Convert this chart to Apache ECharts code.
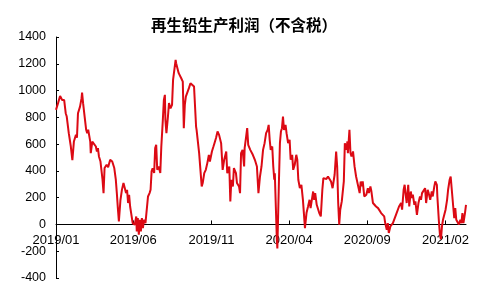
<!DOCTYPE html>
<html>
<head>
<meta charset="utf-8">
<script src="https://cdn.jsdelivr.net/npm/echarts@6/dist/echarts.min.js"></script>
<style>html,body{margin:0;padding:0;background:#fff;}#c{width:492px;height:302px;}</style>
</head>
<body>
<div id="c"></div>
<script>
// Day offsets from 2019/01/01
var dayOffsets = [0,4,8,10,12,16,19,21,25,29,32,35,39,41,43,47,50,51,53,56,59,61,63,67,68,71,74,78,80,82,84,87,91,93,95,99,102,106,110,114,117,119,121,123,126,129,132,134,137,139,141,143,145,147,150,154,157,158,160,162,164,166,168,170,172,175,178,180,183,185,187,189,192,194,196,198,201,204,206,209,211,213,214,216,219,221,224,227,229,232,234,235,238,240,243,245,248,250,252,254,257,260,263,266,270,274,275,280,285,287,290,293,296,299,301,305,308,310,313,316,319,323,326,329,333,335,339,341,343,346,348,352,354,358,360,362,365,368,369,372,374,376,380,385,389,393,396,399,402,405,408,411,414,416,418,420,423,425,427,428,430,432,433,436,438,440,442,444,446,449,451,454,457,459,462,464,467,470,472,474,477,480,483,487,490,493,496,498,501,503,505,507,510,513,515,518,521,523,526,529,532,535,538,541,545,548,550,552,554,556,559,561,563,565,568,570,571,574,576,578,581,584,587,590,594,596,598,600,603,607,610,612,615,617,620,623,626,630,633,636,639,642,644,647,649,651,654,656,659,662,665,668,671,675,677,680,682,684,686,689,691,694,696,698,701,703,706,707,709,712,714,716,719,722,724,727,729,732,735,737,740,742,745,746,749,751,753,755,757,759,762,765,767,770,772,775,777,779,781,783,785,788,791,793,795,797,800,802];
var profit = [856,906,960,972,930,929,831,806,682,582,480,619,669,648,831,880,943,985,906,806,707,682,707,619,533,619,632,582,545,570,508,470,334,234,421,446,428,483,470,421,334,234,122,22,180,260,309,321,234,259,160,222,134,85,10,-2,60,-52,47,-77,35,-52,47,-27,35,10,10,209,234,259,396,420,384,570,595,408,433,384,582,781,930,968,781,682,806,906,868,893,1080,1092,1229,1204,1192,1130,1142,1092,1067,719,893,955,955,1018,1055,1067,1030,731,706,533,284,309,383,408,458,520,470,545,582,607,645,694,669,607,408,483,545,383,433,172,334,284,421,383,309,284,234,533,557,433,570,657,719,595,557,520,483,433,234,358,433,557,607,682,706,744,632,557,582,433,334,383,134,-114,-180,309,607,694,719,806,706,744,682,607,632,483,520,408,446,520,483,334,271,296,184,-27,85,134,184,122,197,246,184,234,147,134,85,60,259,346,346,340,358,371,321,271,371,545,433,160,-2,110,172,184,321,607,557,620,533,707,533,508,545,433,358,371,234,321,284,321,209,222,271,234,284,246,160,147,134,122,110,85,97,60,10,-40,10,-64,-15,-27,10,-2,72,85,134,160,110,259,296,222,160,296,134,246,197,222,147,172,72,60,160,209,184,234,222,271,160,259,234,184,246,209,284,321,296,209,22,-77,-110,-15,35,22,110,184,259,334,358,346,134,47,122,35,47,0,35,10,85,10,85,147];
var tickLabels = ['2019/01','2019/06','2019/11','2020/04','2020/09','2021/02'];
var yTicks = {min:-400, max:1400, step:200};
var titleText = '再生铅生产利润（不含税）';

var base = new Date(2019, 0, 1);
function dayOf(label){
  var p = label.split('/');
  var d = new Date(+p[0], +p[1] - 1, 1);
  return Math.round((d - base) / 86400000);
}
var tickDays = tickLabels.map(dayOf);
function labelOf(day){
  var d = new Date(2019, 0, 1 + day);
  var m = d.getMonth() + 1;
  return d.getFullYear() + '/' + (m < 10 ? '0' + m : m);
}
var seriesData = dayOffsets.map(function(d, i){ return [d, profit[i]]; });

// layout of the main plot
var chartH = 302, gTop = 37, gBottom = 24, gLeft = 56, gRight = 26;
var plotH = chartH - gTop - gBottom;
var zeroFrac = (yTicks.max - 0) / (yTicks.max - yTicks.min);
var upperBottom = chartH - gTop - plotH * zeroFrac; // grid that ends exactly on the zero line

var xMax = dayOffsets[dayOffsets.length - 1];
var chart = echarts.init(document.getElementById('c'), null, {renderer:'canvas'});
var font = 'Liberation Sans, Arial, sans-serif';
chart.setOption({
  animation: false,
  backgroundColor: '#fff',
  title: {
    text: titleText,
    left: 146, top: 12,
    textStyle: {fontSize: 15.5, fontWeight: 'bold', color: '#000', fontFamily: 'Noto Sans CJK SC'}
  },
  grid: [
    {left: gLeft, right: gRight, top: gTop, bottom: gBottom, containLabel: false},
    {left: gLeft, right: gRight, top: gTop, bottom: upperBottom, containLabel: false}
  ],
  xAxis: [{
    type: 'value', gridIndex: 0, min: 0, max: xMax,
    splitLine: {show: false},
    axisLine: {show: false},
    axisTick: {show: false},
    axisLabel: {show: false}
  }, {
    type: 'value', gridIndex: 1, min: 0, max: xMax,
    splitLine: {show: false},
    axisLine: {show: true, onZero: false, lineStyle: {color: '#000', width: 1}},
    axisTick: {show: true, inside: true, length: 4, customValues: tickDays, lineStyle: {color: '#000'}},
    axisLabel: {
      customValues: tickDays,
      color: '#000', fontSize: 13, fontFamily: font, margin: 9,
      formatter: function(v){ return labelOf(v); }
    }
  }],
  yAxis: [{
    type: 'value', gridIndex: 0,
    min: yTicks.min, max: yTicks.max, interval: yTicks.step,
    splitLine: {show: false},
    axisLine: {show: true, onZero: false, lineStyle: {color: '#000', width: 1}},
    axisTick: {show: true, inside: true, length: 3, lineStyle: {color: '#000'}},
    axisLabel: {color: '#000', fontSize: 12.5, fontFamily: font, margin: 10,
      formatter: function(v){ return String(v); }}
  }, {
    type: 'value', gridIndex: 1, min: 0, max: yTicks.max, show: false
  }],
  series: [{
    type: 'line',
    xAxisIndex: 0, yAxisIndex: 0,
    data: seriesData,
    showSymbol: false,
    z: 5,
    lineStyle: {color: '#dc0a14', width: 2},
    itemStyle: {color: '#dc0a14'}
  }]
});
</script>
</body>
</html>
